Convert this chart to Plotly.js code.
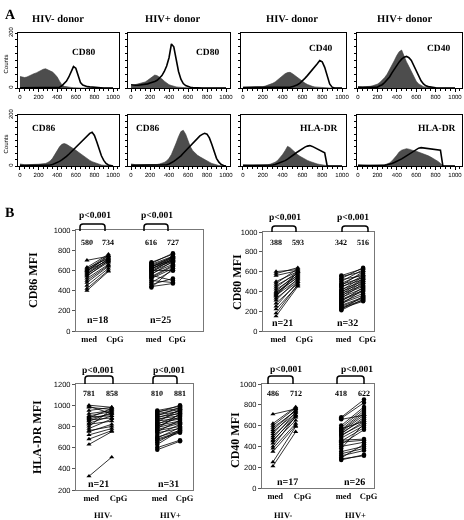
<!DOCTYPE html>
<html><head><meta charset="utf-8">
<script src="https://cdn.plot.ly/plotly-3.0.1.min.js"></script>
<style>html,body{margin:0;padding:0;background:#fff}#chart{width:464px;height:520px;will-change:transform}#chart svg text{text-rendering:geometricPrecision}</style>
</head><body><div id="chart"></div>
<script>
// ---------- DATA ----------
// Histogram channel bins (fluorescence intensity)
const HIST_X = [0,25,50,75,100,125,150,175,200,225,250,275,300,325,350,375,400,425,450,475,500,525,550,575,600,625,650,675,700,725,750,775,800,825,850,875,900,925,950,975,1000];
// Panel A counts: filled = isotype/medium, open = stained
const CD80_NEG_FILL = [42,40,38,40,45,48,52,55,60,65,68,70,66,62,58,50,40,25,12,6,4,3,2,1,0,0,0,0,0,0,0,0,0,0,0,0,0,0,0,0,0];
const CD80_NEG_OPEN = [1,1,1,1,1,1,1,1,1,1,1,1,1,1,1,1,1,3,8,15,25,40,60,78,72,45,20,11,7,5,4,3,3,2,1,0,0,0,0,0,0];
const CD80_POS_FILL = [8,10,12,14,16,18,22,28,35,42,47,45,40,33,25,18,12,9,6,4,3,2,1,0,0,0,0,0,0,0,0,0,0,0,0,0,0,0,0,0,0];
const CD80_POS_OPEN = [12,10,10,10,11,12,13,15,18,20,24,28,35,45,60,80,110,160,150,100,60,32,16,9,5,3,2,1,0,0,0,0,0,0,0,0,0,0,0,0,0];
const CD40_NEG_FILL = [3,3,3,3,3,3,3,4,5,7,10,13,17,22,30,38,45,52,56,57,52,45,38,30,24,18,13,9,6,4,3,2,1,0,0,0,0,0,0,0,0];
const CD40_NEG_OPEN = [2,2,2,2,2,2,2,2,2,2,2,2,2,2,2,2,2,2,2,3,5,8,12,18,25,35,45,55,65,75,88,100,95,75,45,15,3,0,0,0,0];
const CD40_POS_FILL = [5,4,4,5,5,6,8,10,14,20,28,38,50,65,80,100,118,132,138,115,95,78,60,40,25,15,9,5,3,2,1,0,0,0,0,0,0,0,0,0,0];
const CD40_POS_OPEN = [3,3,3,3,3,3,3,3,3,8,12,20,30,40,55,70,85,95,105,112,115,110,100,82,62,42,26,15,8,5,3,2,1,0,0,0,0,0,0,0,0];
const CD86_NEG_FILL = [8,6,5,5,5,5,6,6,7,8,9,10,14,20,30,45,62,75,85,88,85,80,75,70,62,55,48,40,34,28,22,17,13,9,6,4,3,2,1,0,0];
const CD86_NEG_OPEN = [2,2,2,2,2,2,2,2,2,2,2,2,2,4,6,9,13,18,24,30,38,46,55,64,74,84,94,104,113,122,128,132,120,95,65,40,22,10,4,1,0];
const CD86_POS_FILL = [8,6,5,5,5,5,5,5,5,5,5,6,8,10,14,20,30,45,65,90,115,135,140,125,100,75,60,50,42,36,30,25,20,15,10,7,4,2,1,0,0];
const CD86_POS_OPEN = [3,3,3,3,3,3,3,3,3,3,3,3,3,3,3,5,8,12,18,25,32,40,50,60,70,80,90,100,110,118,124,128,125,110,85,55,30,15,6,2,0];
const HLA_NEG_FILL = [5,4,3,3,3,3,3,3,3,4,5,7,10,15,22,32,45,60,77,72,62,52,45,38,32,27,22,18,14,11,8,6,4,3,2,0,0,0,0,0,0];
const HLA_NEG_OPEN = [2,2,2,2,2,2,2,2,2,2,2,3,4,6,9,12,16,21,27,33,40,48,55,62,68,74,78,80,77,72,66,60,56,52,0,0,0,0,0,0,0];
const HLA_POS_FILL = [5,4,3,3,3,3,3,3,3,3,4,5,8,12,20,30,42,55,62,65,68,66,62,60,58,55,52,48,44,40,35,30,25,18,10,0,0,0,0,0,0];
const HLA_POS_OPEN = [2,2,2,2,2,2,2,2,2,2,2,3,5,7,10,14,18,23,28,34,40,47,54,60,65,70,72,71,70,68,67,66,65,64,62,0,0,0,0,0,0];
const HIST_TICKS = [0,200,400,600,800,1000];
const DONOR_LABELS = ['HIV- donor','HIV+ donor','HIV- donor','HIV+ donor'];

// Panel B paired MFI values (medium vs CpG)
const CAT_LABELS = ['med','CpG','med','CpG'];
const GROUP_LABELS = ['HIV-','HIV+'];
const CD86_NEG_MED = [700,630,620,610,600,600,590,580,570,560,550,540,520,500,480,450,420,400];
const CD86_NEG_CPG = [740,760,720,750,730,700,745,710,690,720,680,700,660,650,640,620,600,590];
const CD86_POS_MED = [680,670,660,650,640,640,630,620,620,610,600,600,590,580,570,560,550,540,530,520,500,480,460,440,430];
const CD86_POS_CPG = [760,770,740,730,720,700,740,710,690,730,600,700,680,720,660,690,500,650,640,620,480,600,520,470,620];
const CD80_NEG_MED = [600,580,560,500,480,460,440,420,400,390,380,370,360,350,330,310,280,250,220,180,150];
const CD80_NEG_CPG = [620,640,610,600,630,580,600,560,590,540,570,550,520,600,500,530,480,500,460,470,450];
const CD80_POS_MED = [560,550,530,520,500,480,470,460,450,440,420,410,400,390,380,370,360,350,340,330,320,310,300,290,280,270,260,250,240,230,220,210];
const CD80_POS_CPG = [630,600,640,560,620,580,540,600,520,560,500,550,480,530,460,520,450,500,430,480,410,400,440,380,360,420,340,330,310,300,350,320];
const HLA_NEG_MED = [1000,990,980,950,920,900,890,880,870,860,850,830,820,800,780,760,750,720,680,630,330];
const HLA_NEG_CPG = [980,920,960,980,950,940,900,970,920,880,930,900,850,960,870,800,820,780,760,750,510];
const HLA_POS_MED = [950,940,930,920,910,900,890,880,870,860,850,840,830,820,810,800,790,780,770,760,750,740,720,700,690,680,670,650,630,600,580];
const HLA_POS_CPG = [990,970,1000,960,940,980,920,950,900,930,880,960,870,910,850,890,840,920,830,800,860,780,820,760,790,750,740,770,760,670,660];
const CD40_NEG_MED = [710,620,600,580,560,540,520,500,480,460,450,430,400,380,350,250,210];
const CD40_NEG_CPG = [760,780,770,740,750,720,760,700,730,680,700,650,690,620,600,590,540];
const CD40_POS_MED = [680,670,660,600,580,570,560,550,540,530,520,510,500,480,460,450,440,420,400,380,350,330,310,290,280,270];
const CD40_POS_CPG = [850,820,700,780,760,640,740,720,700,660,680,620,640,600,470,580,460,560,440,620,400,380,360,420,310,320];
// Reported means and group sizes
const CD86_MEANS = [580,734,616,727]; const CD86_N = [18,25];
const CD80_MEANS = [388,593,342,516]; const CD80_N = [21,32];
const HLA_MEANS  = [781,858,810,881]; const HLA_N  = [21,31];
const CD40_MEANS = [486,712,418,622]; const CD40_N = [17,26];
const P_TEXT = 'p&lt;0.001';

// ---------- LAYOUT HELPERS ----------
const W = 464, H = 520;
const SERIF = 'Liberation Serif, Times New Roman, serif';
const SANS = 'Liberation Sans, Arial, sans-serif';
const dX = (l, r) => [l / W, r / W];
const dY = (t, b) => [1 - b / H, 1 - t / H];
const px = v => v / W, py = v => 1 - v / H;

const traces = [];
const layout = {
  width: W, height: H, margin: {l: 0, r: 0, t: 0, b: 0},
  paper_bgcolor: '#fff', plot_bgcolor: '#fff', showlegend: false,
  annotations: [], shapes: []
};
function ann(o) { layout.annotations.push(Object.assign({showarrow: false, xanchor: 'center', yanchor: 'middle'}, o)); }

// ---------- PANEL A : histograms ----------
const histPanels = [
  {l: 18,  r: 119, t: 33,  b: 88,  xr: [-21, 1064], fill: CD80_NEG_FILL, open: CD80_NEG_OPEN, label: 'CD80',   lx: 680, ly: 130, yl: true},
  {l: 128, r: 230, t: 33,  b: 88,  xr: [-32, 1042], fill: CD80_POS_FILL, open: CD80_POS_OPEN, label: 'CD80',   lx: 800, ly: 130},
  {l: 241, r: 346, t: 33,  b: 88,  xr: [-20, 1040], fill: CD40_NEG_FILL, open: CD40_NEG_OPEN, label: 'CD40',   lx: 780, ly: 145},
  {l: 357, r: 462, t: 33,  b: 88,  xr: [-10, 1072], fill: CD40_POS_FILL, open: CD40_POS_OPEN, label: 'CD40',   lx: 830, ly: 145},
  {l: 18,  r: 119, t: 115, b: 166, xr: [-21, 1064], fill: CD86_NEG_FILL, open: CD86_NEG_OPEN, label: 'CD86',   lx: 250, ly: 148, yl: true},
  {l: 128, r: 230, t: 115, b: 166, xr: [-32, 1042], fill: CD86_POS_FILL, open: CD86_POS_OPEN, label: 'CD86',   lx: 170, ly: 148},
  {l: 241, r: 346, t: 115, b: 166, xr: [-20, 1040], fill: HLA_NEG_FILL,  open: HLA_NEG_OPEN,  label: 'HLA-DR', lx: 770, ly: 148},
  {l: 357, r: 462, t: 115, b: 166, xr: [-10, 1072], fill: HLA_POS_FILL,  open: HLA_POS_OPEN,  label: 'HLA-DR', lx: 810, ly: 148}
];
const yTickVals = [0,25,50,75,100,125,150,175,200];
histPanels.forEach((p, i) => {
  const n = i + 1, xs = n === 1 ? '' : n, xa = 'x' + (n === 1 ? '' : n), ya = 'y' + (n === 1 ? '' : n);
  traces.push({type: 'scatter', mode: 'lines', x: HIST_X, y: p.fill, xaxis: xa, yaxis: ya,
    fill: 'tozeroy', fillcolor: '#4d4d4d', line: {color: '#3a3a3a', width: 0.6}, hoverinfo: 'skip'});
  traces.push({type: 'scatter', mode: 'lines', x: HIST_X, y: p.open, xaxis: xa, yaxis: ya,
    line: {color: '#000', width: 1.6}, hoverinfo: 'skip'});
  layout['xaxis' + xs] = {domain: dX(p.l, p.r), anchor: ya, range: p.xr,
    tickmode: 'array', tickvals: HIST_TICKS, ticks: 'outside', ticklen: 2.5, tickwidth: 1, tickcolor: '#000',
    minor: {dtick: 50, tick0: 0, ticks: 'outside', ticklen: 1.5, tickcolor: '#000'},
    tickfont: {family: SANS, size: 6, color: '#000'}, showline: true, mirror: true,
    linecolor: '#000', linewidth: 1, showgrid: false, zeroline: false, fixedrange: true};
  layout['yaxis' + xs] = {domain: dY(p.t, p.b), anchor: xa, range: [0, 200],
    tickmode: 'array', tickvals: yTickVals,
    ticktext: yTickVals.map(v => v === 0 || v === 200 ? String(v) : ''),
    showticklabels: !!p.yl, tickangle: -90,
    ticks: 'outside', ticklen: 2, tickcolor: '#000', tickfont: {family: SANS, size: 6, color: '#000'},
    showline: true, mirror: true, linecolor: '#000', linewidth: 1, showgrid: false, zeroline: false, fixedrange: true};
  ann({xref: xa, yref: ya, x: p.lx, y: p.ly, text: p.label, font: {family: SERIF, size: 9.5, color: '#000', weight: 'bold'}});
  if (p.yl) ann({xref: 'paper', yref: 'paper', x: px(5), y: py((p.t + p.b) / 2 + 4), text: 'Counts', textangle: -90,
    font: {family: SANS, size: 6, color: '#000'}});
});
[58, 173, 292, 405].forEach((cx, i) => ann({xref: 'paper', yref: 'paper', x: px(cx), y: py(19), text: DONOR_LABELS[i],
  font: {family: SERIF, size: 10.5, color: '#000', weight: 'bold'}}));
ann({xref: 'paper', yref: 'paper', x: px(10), y: py(14), text: 'A', font: {family: SERIF, size: 14, color: '#000', weight: 'bold'}});
ann({xref: 'paper', yref: 'paper', x: px(9), y: py(212), text: 'B', font: {family: SERIF, size: 14, color: '#000', weight: 'bold'}});

// ---------- PANEL B : paired plots ----------
const POS = [1, 2, 4, 5];         // med/CpG positions for HIV- and HIV+
const LABEL_POS = [1.1, 2.3, 4.1, 5.2];
const bPanels = [
  {l: 76,  r: 203, t: 230, b: 331, xr: [0.49, 6.4], yr: [0, 1000], ticks: [0,200,400,600,800,1000],
   neg: [CD86_NEG_MED, CD86_NEG_CPG], pos: [CD86_POS_MED, CD86_POS_CPG], means: CD86_MEANS, ns: CD86_N,
   meanY: 880, nX: [1.5, 4.4], nY: 109, title: 'CD86 MFI', tx: 33, ty: 280,
   br: [[80, 105], [144, 168]], brT: 224, brB: 231, pX: [95, 157], pY: 215},
  {l: 263, r: 374, t: 232, b: 331, xr: [0.40, 5.5], yr: [0, 1000], ticks: [0,200,400,600,800,1000],
   neg: [CD80_NEG_MED, CD80_NEG_CPG], pos: [CD80_POS_MED, CD80_POS_CPG], means: CD80_MEANS, ns: CD80_N,
   meanY: 889, nX: [1.3, 4.3], nY: 81, title: 'CD80 MFI', tx: 237, ty: 282,
   br: [[272, 296], [342, 368]], brT: 226, brB: 232, pX: [285, 353], pY: 217},
  {l: 76,  r: 193, t: 384, b: 490, xr: [0.43, 5.57], yr: [200, 1200], ticks: [200,400,600,800,1000,1200],
   neg: [HLA_NEG_MED, HLA_NEG_CPG], pos: [HLA_POS_MED, HLA_POS_CPG], means: HLA_MEANS, ns: HLA_N,
   meanY: 1106, nX: [1.4, 4.5], nY: 257, title: 'HLA-DR MFI', tx: 37, ty: 437,
   br: [[85, 113], [153, 177]], brT: 376, brB: 384, pX: [98, 169], pY: 370, groups: [103, 170]},
  {l: 262, r: 374, t: 384, b: 488, xr: [0.52, 5.44], yr: [0, 1000], ticks: [0,200,400,600,800,1000],
   neg: [CD40_NEG_MED, CD40_NEG_CPG], pos: [CD40_POS_MED, CD40_POS_CPG], means: CD40_MEANS, ns: CD40_N,
   meanY: 904, nX: [1.66, 4.6], nY: 58, title: 'CD40 MFI', tx: 235, ty: 440,
   br: [[268, 293], [337, 364]], brT: 376, brB: 384, pX: [286, 357], pY: 369, groups: [283, 355]}
];
function pairTrace(med, cpg, x0, x1, xa, ya, sym) {
  const xs = [], ys = [];
  med.forEach((m, i) => { xs.push(x0, x1, null); ys.push(m, cpg[i], null); });
  return {type: 'scatter', mode: 'lines+markers', x: xs, y: ys, xaxis: xa, yaxis: ya,
    line: {color: '#000', width: 0.8}, marker: {symbol: sym, size: 4.5, color: '#000'}, hoverinfo: 'skip'};
}
const boldSerif = s => ({family: SERIF, size: s, color: '#000', weight: 'bold'});
bPanels.forEach((p, i) => {
  const n = 9 + i, xa = 'x' + n, ya = 'y' + n;
  traces.push(pairTrace(p.neg[0], p.neg[1], POS[0], POS[1], xa, ya, 'triangle-up'));
  traces.push(pairTrace(p.pos[0], p.pos[1], POS[2], POS[3], xa, ya, 'circle'));
  layout['xaxis' + n] = {domain: dX(p.l, p.r), anchor: ya, range: p.xr, tickmode: 'array',
    tickvals: LABEL_POS, ticktext: CAT_LABELS, ticks: '', tickfont: boldSerif(8.5),
    showline: true, mirror: true, linecolor: '#777', linewidth: 1, showgrid: false, zeroline: false, fixedrange: true};
  layout['yaxis' + n] = {domain: dY(p.t, p.b), anchor: xa, range: p.yr, tickmode: 'array', tickvals: p.ticks,
    ticks: 'outside', ticklen: 3, tickcolor: '#555', tickfont: {family: SANS, size: 7.5, color: '#000'},
    showline: true, mirror: true, linecolor: '#777', linewidth: 1, showgrid: false, zeroline: false, fixedrange: true};
  p.means.forEach((m, k) => ann({xref: xa, yref: ya, x: POS[k], y: p.meanY, text: String(m), font: boldSerif(8)}));
  p.ns.forEach((c, k) => ann({xref: xa, yref: ya, x: p.nX[k], y: p.nY, text: 'n=' + c, font: boldSerif(10)}));
  ann({xref: 'paper', yref: 'paper', x: px(p.tx), y: py(p.ty), text: p.title, textangle: -90, font: boldSerif(12)});
  p.pX.forEach(x => ann({xref: 'paper', yref: 'paper', x: px(x), y: py(p.pY), text: P_TEXT, font: boldSerif(9.5)}));
  if (p.groups) p.groups.forEach((x, k) => ann({xref: 'paper', yref: 'paper', x: px(x), y: py(515), text: GROUP_LABELS[k], font: boldSerif(8.5)}));
  p.br.forEach(([a, b]) => {
    const r = 3, X = v => px(v), Y = v => py(v);
    const path = `M ${X(a)} ${Y(p.brB)} L ${X(a)} ${Y(p.brT + r)} Q ${X(a)} ${Y(p.brT)} ${X(a + r)} ${Y(p.brT)} ` +
      `L ${X(b - r)} ${Y(p.brT)} Q ${X(b)} ${Y(p.brT)} ${X(b)} ${Y(p.brT + r)} L ${X(b)} ${Y(p.brB)}`;
    layout.shapes.push({type: 'path', xref: 'paper', yref: 'paper', path, line: {color: '#000', width: 1.5}});
  });
});

Plotly.newPlot('chart', traces, layout, {staticPlot: true, displayModeBar: false});
</script></body></html>
